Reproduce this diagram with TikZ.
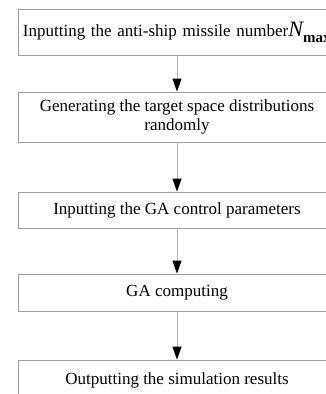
\documentclass[tikz,border=0pt]{standalone}
\usepackage{fontspec}
\setmainfont{Liberation Serif}
\usetikzlibrary{arrows.meta}

\begin{document}
\begin{tikzpicture}[x=1pt, y=-1pt,
  box/.style={draw=gray!75, line width=0.8pt, minimum width=318pt,
              align=center, inner sep=5pt, font=\fontsize{17}{19}\selectfont},
  arrow/.style={draw=gray!60, line width=0.8pt,
                -{Triangle[black, length=13pt, width=9pt]}},
]
\path[use as bounding box] (0,0) rectangle (326,394);
\clip (0,0) rectangle (326,394);

\node[box, minimum height=46pt, text width=308pt, align=left] (S1) at (177,32)
  {\mbox{Inputting the anti-ship missile number{\fontsize{22}{22}\selectfont\itshape N}%
   \raisebox{-6pt}{\fontsize{15}{15}\selectfont\bfseries max}}};
\node[box, minimum height=50pt] (S2) at (177,117)
  {Generating the target space distributions\\randomly};
\node[box, minimum height=36pt] (S3) at (177,210)
  {Inputting the GA control parameters};
\node[box, minimum height=37pt] (S4) at (177,292.5)
  {GA computing};
\node[box, minimum height=40pt] (S5) at (177,380)
  {Outputting the simulation results};

\draw[arrow] (S1.south) -- (S2.north);
\draw[arrow] (S2.south) -- (S3.north);
\draw[arrow] (S3.south) -- (S4.north);
\draw[arrow] (S4.south) -- (S5.north);
\end{tikzpicture}
\end{document}
